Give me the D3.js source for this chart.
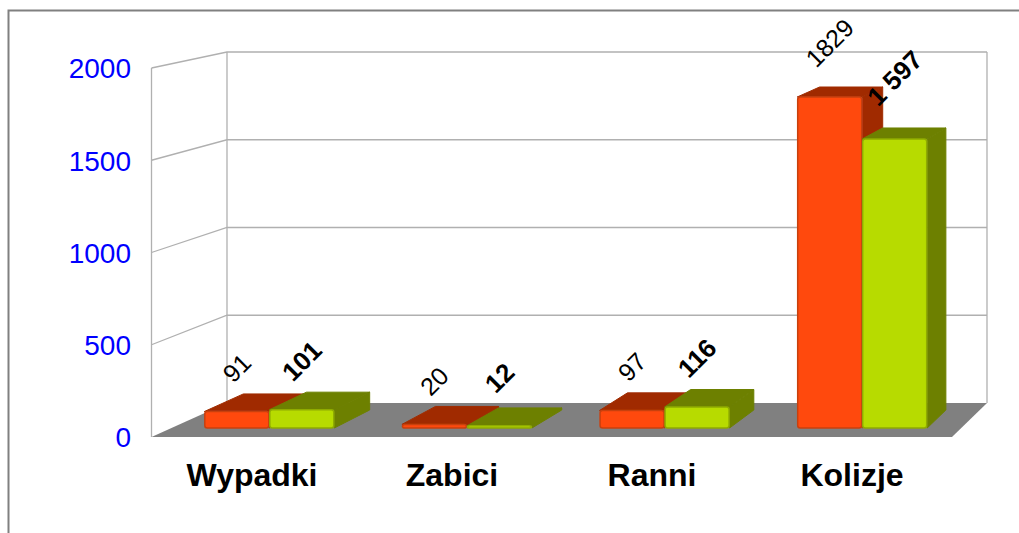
<!DOCTYPE html>
<html>
<head>
<meta charset="utf-8">
<script src="https://cdnjs.cloudflare.com/ajax/libs/d3/7.8.5/d3.min.js"></script>
<style>
html, body { margin: 0; padding: 0; background: #fff; }
svg { display: block; font-family: "Liberation Sans", Arial, sans-serif; }
</style>
</head>
<body>
<div id="chart"></div>
<script>
const categories = ["Wypadki", "Zabici", "Ranni", "Kolizje"];
const seriesNames = ["a", "b"];
const valuesA = [91, 20, 97, 1829];
const valuesB = [101, 12, 116, 1597];
const yTicks = [0, 500, 1000, 1500, 2000];

const colors = {
    a: { face: "#ff4a0c", edge: "#c8400f", dark: "#a02c06" },
    b: { face: "#b7db00", edge: "#8fab05", dark: "#6d8000" }
};

const width = 1019, height = 533;
const svg = d3.select("#chart").append("svg").attr("width", width).attr("height", height);

svg.append("defs").append("filter").attr("id", "soft")
    .append("feGaussianBlur").attr("stdDeviation", 0.5);

// chart frame, only top and left are inside the picture
svg.append("path")
    .attr("d", "M8.5,533V10.5H1019")
    .attr("fill", "none").attr("stroke", "#808080").attr("stroke-width", 2);

// walls: front edge and back edge have their own scale
const yFront = d3.scaleLinear().domain([0, 2000]).range([437, 68]);
const yBack = d3.scaleLinear().domain([0, 2000]).range([403, 52]);
const wall = { frontL: 151.5, backL: 227, frontR: 952, backR: 987 };

svg.append("path")
    .attr("d", `M${wall.frontL},${yFront(0)}L${wall.backL},${yBack(0)}L${wall.backR},${yBack(0)}L${wall.frontR},${yFront(0)}Z`)
    .attr("fill", "#808080");

const grid = svg.append("g").attr("fill", "none").attr("stroke", "#b0b0b0").attr("stroke-width", 1.3);
yTicks.forEach(t => {
    if (t > 0) {
        grid.append("path").attr("d", `M${wall.frontL},${yFront(t)}L${wall.backL},${yBack(t)}L${wall.backR},${yBack(t)}`);
    }
});
grid.append("path").attr("d", `M${wall.frontL},${yFront(0)}V${yFront(2000)}`);
grid.append("path").attr("d", `M${wall.backL},${yBack(0)}V${yBack(2000)}`);
grid.append("path").attr("d", `M${wall.backR},${yBack(0)}V${yBack(2000)}`);

// y labels
const yAxis = svg.append("g")
    .attr("transform", "translate(131,1)")
    .call(d3.axisLeft(yFront).tickValues(yTicks).tickSize(0).tickPadding(0).tickFormat(d3.format("d")));
yAxis.select(".domain").remove();
yAxis.selectAll("text")
    .attr("font-size", 28).attr("fill", "#0000ff").attr("font-family", "Liberation Sans");

// bars
const x0 = d3.scaleBand().domain(categories).range([170.5, 961]);
const x1 = d3.scaleBand().domain(seriesNames)
    .range([x0.bandwidth() / 2 - 65, x0.bandwidth() / 2 + 65]);

const barFront = d3.scaleLinear().domain([0, 1829]).range([428, 97]);
const barBack = d3.scaleLinear().domain([0, 1829]).range([410, 87]);
// the back of a bar is a bit over half way to the wall, shift shrinks to the right
const barDepthX = d3.scaleLinear().domain([wall.frontL, wall.frontR]).range([192, 970]);

const rows = [];
seriesNames.forEach((s, si) => {
    const vals = si === 0 ? valuesA : valuesB;
    categories.forEach((c, i) => rows.push({ c, s, v: vals[i] }));
});

const bars = svg.append("g").attr("filter", "url(#soft)").selectAll("g").data(rows).join("g");

bars.each(function (d) {
    const g = d3.select(this);
    const col = colors[d.s];
    const xl = x0(d.c) + x1(d.s), xr = xl + x1.bandwidth();
    const xlb = barDepthX(xl), xrb = barDepthX(xr);
    const tf = barFront(d.v), tb = barBack(d.v);

    g.append("path")
        .attr("d", `M${xr},${tf}L${xrb},${tb}L${xrb},${barBack(0)}L${xr},${barFront(0)}Z`)
        .attr("fill", col.dark).attr("stroke", col.dark).attr("stroke-linejoin", "round");
    g.append("path")
        .attr("d", `M${xl},${tf}L${xlb},${tb}L${xrb},${tb}L${xr},${tf}Z`)
        .attr("fill", col.dark).attr("stroke", col.dark).attr("stroke-linejoin", "round");
    g.append("rect")
        .attr("x", xl + 0.5).attr("y", tf)
        .attr("width", xr - xl - 1).attr("height", Math.max(barFront(0) - tf, 1))
        .attr("rx", 2.5)
        .attr("fill", col.face).attr("stroke", col.edge).attr("stroke-width", 1.5);
});

// value labels, second series is bold with a spaced thousand
const spaced = d3.formatLocale({ decimal: ",", thousands: " ", grouping: [3], currency: ["", ""] }).format(",d");
// labels lift a bit more on the tall bars
const labelLift = { a: d3.scaleLinear().domain([0, 1829]).range([43, 54]), b: d3.scaleLinear().domain([0, 1597]).range([48, 61]) };

svg.append("g").selectAll("text").data(rows).join("text")
    .attr("transform", d => {
        const cx = x0(d.c) + x1(d.s) + x1.bandwidth() / 2;
        const cy = barFront(d.v) - labelLift[d.s](d.v);
        return `translate(${cx},${cy}) rotate(-45)`;
    })
    .attr("text-anchor", "middle")
    .attr("dy", "0.35em")
    .attr("font-size", d => d.s === "b" ? 26 : 25)
    .attr("font-weight", d => d.s === "b" ? "bold" : "normal")
    .attr("fill", "#000")
    .text(d => d.s === "b" ? spaced(d.v) : d.v);

// category labels sit on the front floor edge, not on the bars
const xLabels = d3.scaleBand().domain(categories).range([152, 952]);

svg.append("g").selectAll("text").data(categories).join("text")
    .attr("x", d => xLabels(d) + xLabels.bandwidth() / 2)
    .attr("y", 486)
    .attr("text-anchor", "middle")
    .attr("font-size", 32)
    .attr("font-weight", "bold")
    .attr("fill", "#000")
    .text(d => d);
</script>
</body>
</html>
